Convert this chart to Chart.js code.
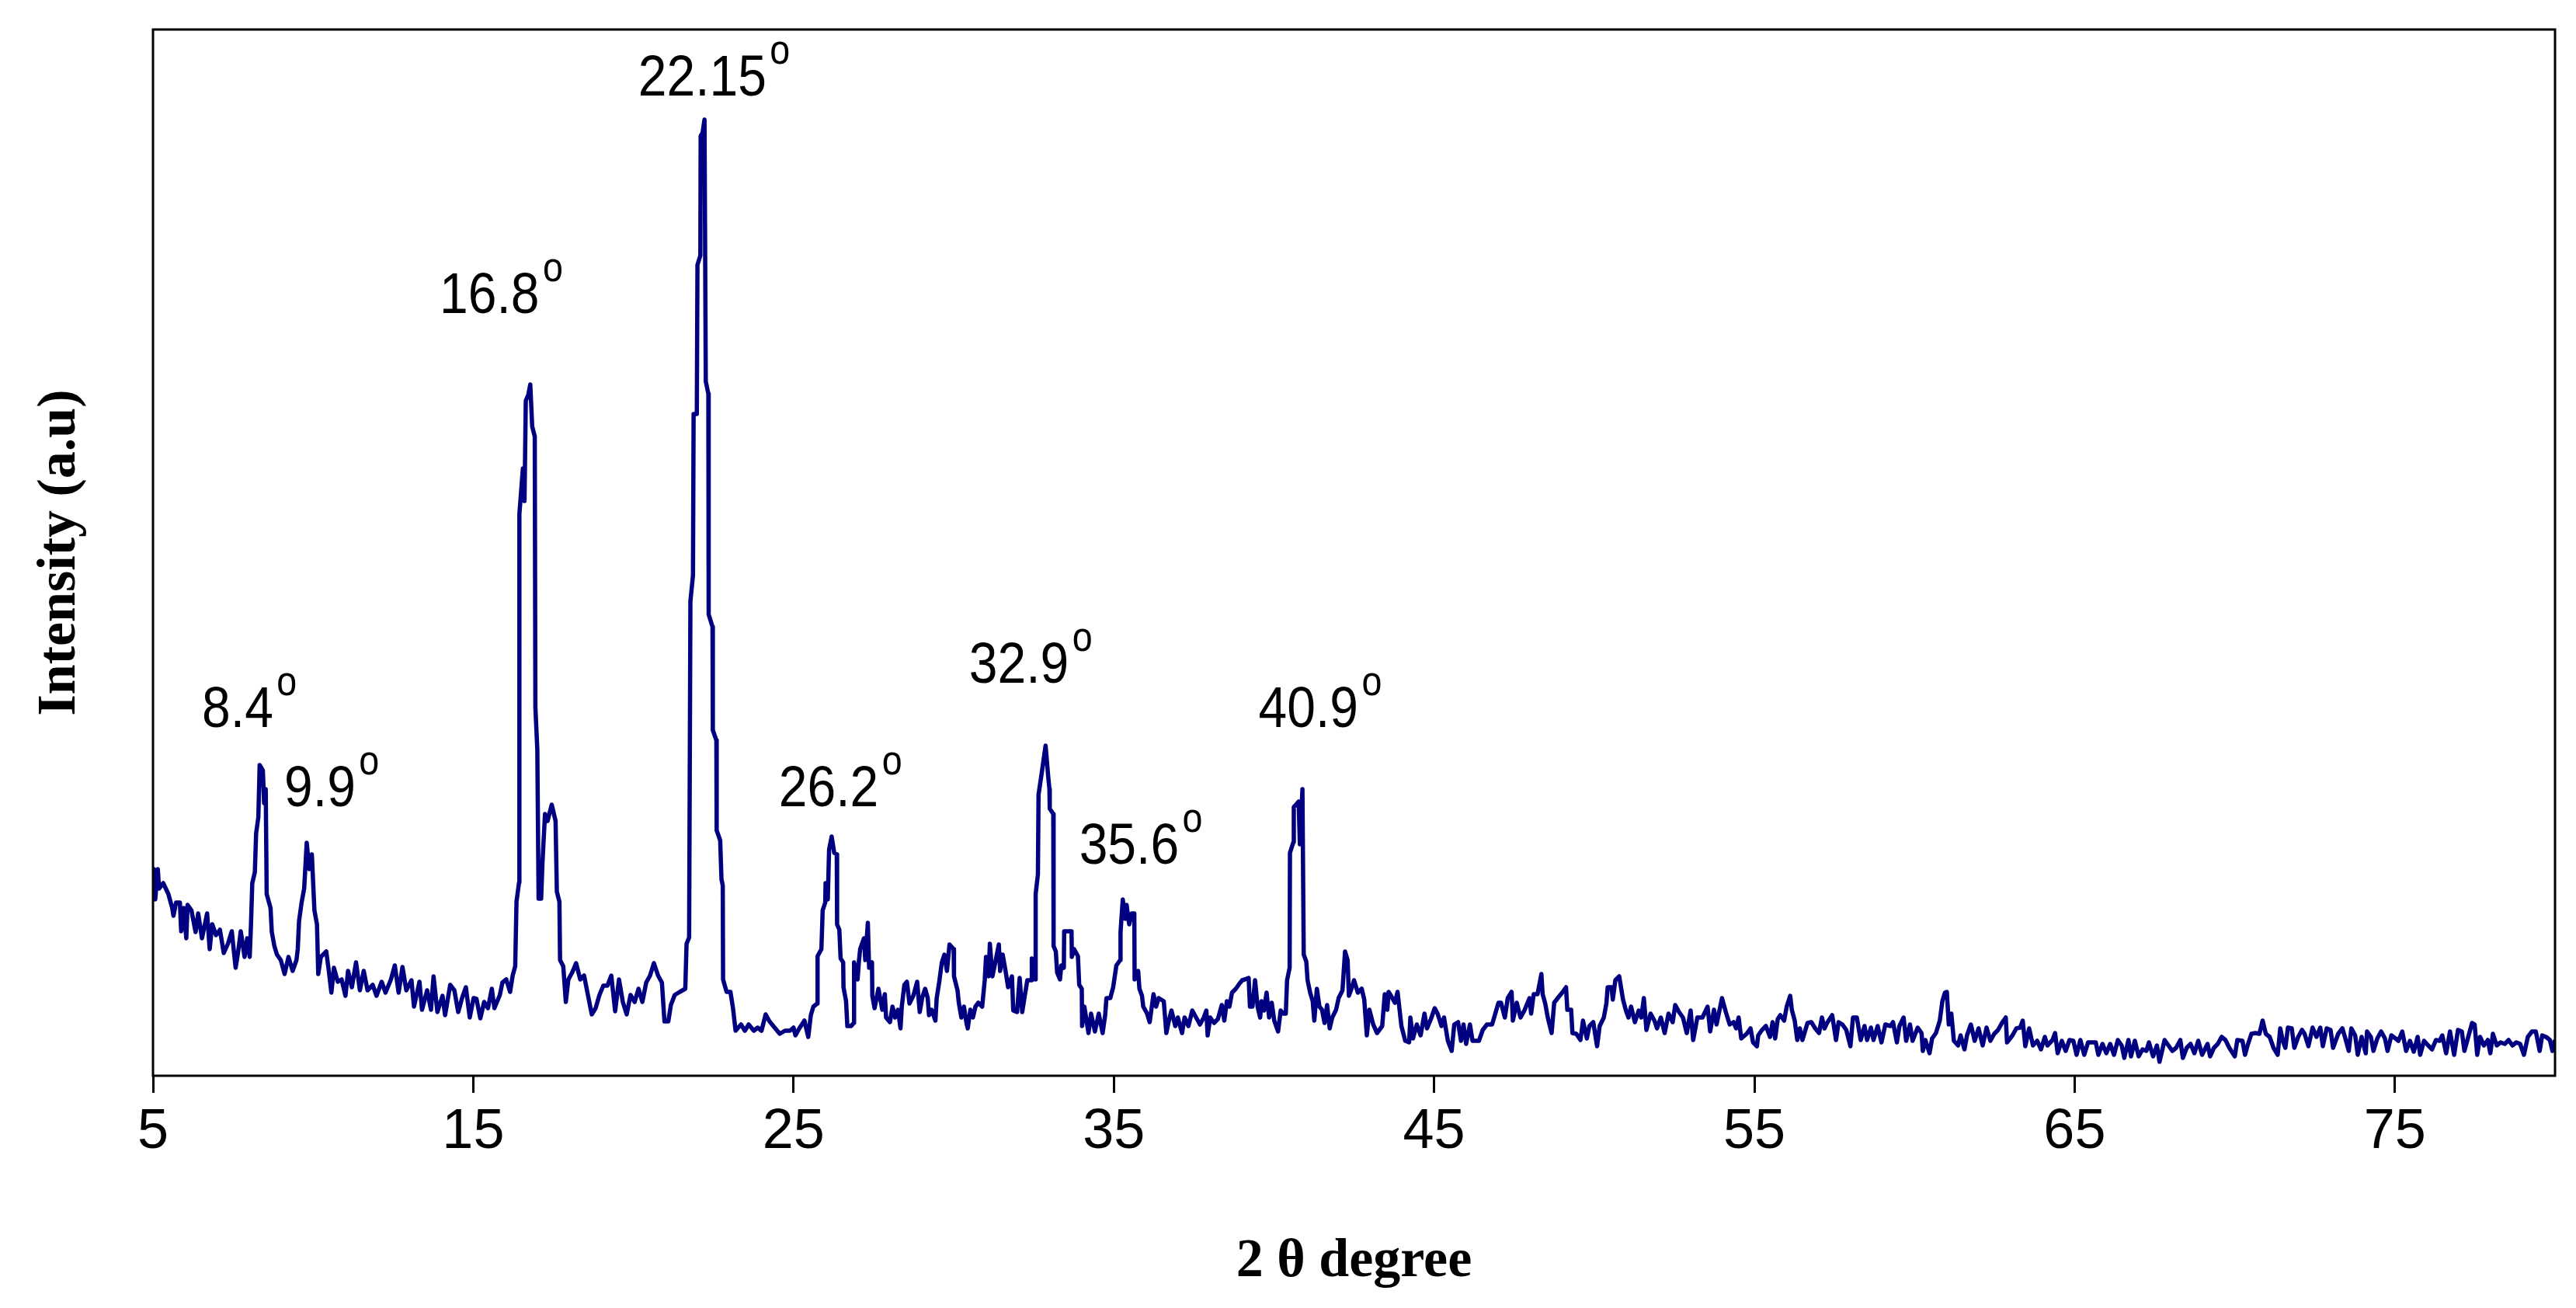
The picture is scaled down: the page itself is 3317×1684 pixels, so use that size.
<!DOCTYPE html>
<html>
<head>
<meta charset="utf-8">
<title>XRD pattern</title>
<script src="https://cdn.jsdelivr.net/npm/chart.js@4.4.1/dist/chart.umd.min.js"></script>
<style>
  html, body { margin: 0; padding: 0; background: #fff; overflow: hidden; }
  canvas { display: block; }
</style>
</head>
<body>
<canvas id="myChart" width="3317" height="1684"></canvas>
<script>
// 2 theta (degree) and intensity (a.u.)
const twoTheta = [
  5.00, 5.03, 5.07, 5.15, 5.19, 5.32, 5.48, 5.60, 5.64, 5.72, 5.84, 5.88, 5.96, 6.04, 6.08, 6.20, 6.33, 6.41, 6.53, 6.69, 6.77, 6.85, 6.97, 7.09, 7.21, 7.34, 7.46, 7.58, 7.66, 7.74, 7.86, 7.94, 8.02,
  8.06, 8.10, 8.18, 8.22, 8.29, 8.33, 8.43, 8.47, 8.52, 8.55, 8.67, 8.71, 8.79, 8.87, 8.99, 9.11, 9.23, 9.36, 9.48, 9.52, 9.56, 9.64, 9.72, 9.80, 9.88, 9.96, 10.04,
  10.12, 10.16, 10.24, 10.41, 10.49, 10.57, 10.65, 10.77, 10.89, 11.01, 11.09, 11.21, 11.34, 11.46, 11.58, 11.70, 11.86, 11.98, 12.14, 12.26, 12.43, 12.55, 12.67, 12.79, 12.91, 13.07, 13.15, 13.32, 13.40, 13.56, 13.68, 13.76, 13.88, 14.04, 14.12, 14.28, 14.41, 14.53, 14.65, 14.77, 14.89, 15.01,
  15.10, 15.22, 15.34, 15.46, 15.58, 15.66, 15.83, 15.91, 16.03, 16.15, 16.23, 16.31, 16.35, 16.43, 16.44, 16.55, 16.60, 16.64, 16.72, 16.78, 16.84, 16.92, 16.94, 17.00, 17.04, 17.12, 17.16, 17.24, 17.32, 17.45, 17.57, 17.61, 17.69,
  17.71, 17.81, 17.89, 17.97, 18.09, 18.21, 18.34, 18.46, 18.58, 18.70, 18.82, 18.94, 19.06, 19.19, 19.31, 19.43, 19.55, 19.67, 19.79, 19.91, 20.04, 20.16, 20.28, 20.40, 20.52, 20.64, 20.77, 20.89, 20.97, 21.09, 21.17, 21.29, 21.45, 21.62, 21.66, 21.74,
  21.78, 21.86, 21.88, 21.98, 22.00, 22.09, 22.10, 22.16, 22.22, 22.26, 22.34, 22.35, 22.47, 22.48, 22.59, 22.60, 22.71, 22.75, 22.79, 22.80, 22.91, 23.03, 23.11, 23.19, 23.36, 23.48, 23.60, 23.76, 23.88, 24.00, 24.13, 24.25, 24.41, 24.57, 24.73, 24.89, 25.00,
  25.06, 25.18, 25.34, 25.46, 25.54, 25.62, 25.74, 25.75, 25.87, 25.91, 25.99, 26.00, 26.07, 26.11, 26.19, 26.27, 26.35, 26.36, 26.43, 26.47, 26.55, 26.56, 26.64, 26.68, 26.80, 26.88, 26.89, 27.00, 27.04, 27.08, 27.20, 27.24, 27.32, 27.36, 27.45, 27.46, 27.53, 27.65, 27.77, 27.85, 27.89, 28.01, 28.09, 28.17, 28.26, 28.34, 28.38, 28.46, 28.54, 28.62, 28.74, 28.86, 28.94, 29.02, 29.11, 29.19, 29.23, 29.31, 29.43, 29.47, 29.55, 29.63, 29.71, 29.79, 29.87, 30.00,
  30.01, 30.12, 30.16, 30.24, 30.32, 30.40, 30.44, 30.52, 30.60, 30.68, 30.77, 30.89, 30.97, 31.01, 31.09, 31.13, 31.21, 31.29, 31.41, 31.45, 31.53, 31.62, 31.70, 31.82, 31.86, 31.98, 32.06, 32.14, 32.22, 32.30, 32.43, 32.44, 32.55, 32.56, 32.63, 32.65, 32.75, 32.87, 32.95, 32.99, 33.00, 33.11, 33.12, 33.19, 33.23, 33.32, 33.36, 33.44, 33.45, 33.56, 33.68, 33.69, 33.76, 33.88, 33.92, 34.00, 34.01, 34.08, 34.21, 34.29, 34.41, 34.53, 34.65, 34.73, 34.77, 34.89, 34.98,
  35.08, 35.20, 35.21, 35.28, 35.36, 35.40, 35.48, 35.56, 35.64, 35.65, 35.76, 35.80, 35.88, 35.92, 36.04, 36.12, 36.24, 36.32, 36.40, 36.56, 36.64, 36.72, 36.80, 36.92, 37.00, 37.13, 37.21, 37.33, 37.45, 37.57, 37.69, 37.81, 37.89, 37.93, 38.01, 38.13, 38.25, 38.37, 38.45, 38.53, 38.61, 38.69, 38.81, 38.93, 39.01, 39.09, 39.21, 39.25, 39.33, 39.41, 39.49, 39.57, 39.61, 39.69, 39.77, 39.85, 39.93, 40.01, 40.13, 40.21, 40.29, 40.37, 40.41, 40.49,
  40.50, 40.61, 40.62, 40.69, 40.77, 40.81, 40.89, 40.93, 41.01, 41.05, 41.13, 41.21, 41.26, 41.34, 41.42, 41.50, 41.58, 41.66, 41.74, 41.82, 41.94, 42.02, 42.14, 42.22, 42.30, 42.34, 42.42, 42.50, 42.62, 42.74, 42.82, 42.90, 42.98, 43.10, 43.22, 43.38, 43.46, 43.54, 43.58, 43.78, 43.86, 43.98, 44.10, 44.22, 44.26, 44.34, 44.46, 44.58, 44.70, 44.78, 44.90, 45.02,
  45.11, 45.23, 45.31, 45.43, 45.55, 45.63, 45.75, 45.84, 45.92, 46.00, 46.12, 46.20, 46.40, 46.52, 46.65, 46.81, 46.89, 47.01, 47.09, 47.21, 47.30, 47.42, 47.46, 47.58, 47.70, 47.82, 47.98, 48.03, 48.11, 48.23, 48.35, 48.39, 48.47, 48.55, 48.67, 48.75, 48.88, 49.00, 49.12, 49.16, 49.28, 49.32, 49.44, 49.57, 49.65, 49.77, 49.85, 49.97, 50.09, 50.17, 50.30, 50.38, 50.42, 50.54, 50.58, 50.66, 50.78, 50.90, 50.99, 51.07, 51.15, 51.27, 51.39, 51.47, 51.55, 51.63, 51.76, 51.88, 51.96, 52.08, 52.20, 52.32, 52.45, 52.53, 52.65, 52.77, 52.89, 53.01, 53.09, 53.22, 53.38, 53.54, 53.62, 53.74, 53.82, 53.99, 54.11, 54.23, 54.35, 54.43, 54.51, 54.59, 54.76, 54.88, 54.96,
  55.08, 55.12, 55.24, 55.36, 55.49, 55.57, 55.65, 55.73, 55.81, 55.93, 56.01, 56.12, 56.17, 56.26, 56.34, 56.42, 56.50, 56.58, 56.66, 56.78, 56.90, 57.02, 57.11, 57.19, 57.27, 57.43, 57.55, 57.63, 57.75, 57.87, 58.00, 58.08, 58.20, 58.32, 58.44, 58.52, 58.64, 58.72, 58.85, 58.97, 59.09, 59.25, 59.33, 59.45, 59.53, 59.66, 59.74, 59.86, 59.94, 60.10, 60.22, 60.26, 60.34, 60.47, 60.55, 60.67, 60.79, 60.87, 60.95, 61.01, 61.07, 61.15, 61.23, 61.36, 61.44, 61.56, 61.64, 61.76, 61.88, 62.00, 62.13, 62.25, 62.37, 62.49, 62.61, 62.73, 62.85, 62.89, 63.06, 63.18, 63.30, 63.38, 63.46, 63.58, 63.70, 63.83, 63.95, 64.07, 64.15, 64.31, 64.39, 64.47, 64.60, 64.72, 64.84, 64.96,
  65.06, 65.18, 65.30, 65.42, 65.54, 65.66, 65.74, 65.87, 65.99, 66.11, 66.23, 66.35, 66.47, 66.55, 66.68, 66.76, 66.88, 67.00, 67.12, 67.24, 67.32, 67.45, 67.57, 67.65, 67.73, 67.81, 67.93, 68.05, 68.17, 68.30, 68.38, 68.50, 68.62, 68.74, 68.86, 68.98, 69.15, 69.23, 69.35, 69.47, 69.59, 69.71, 69.83, 70.00, 70.08, 70.24, 70.32, 70.40, 70.52, 70.64, 70.77, 70.87, 70.97, 71.09, 71.21, 71.34, 71.42, 71.50, 71.58, 71.66, 71.78, 71.86, 71.98, 72.10, 72.18, 72.30, 72.43, 72.55, 72.67, 72.75, 72.87, 72.99, 73.07, 73.23, 73.36, 73.44, 73.56, 73.64, 73.76, 73.84, 73.96, 74.09, 74.13, 74.25, 74.33, 74.45, 74.57, 74.69, 74.77, 74.89, 75.02,
  75.11, 75.23, 75.35, 75.47, 75.59, 75.71, 75.79, 75.91, 76.04, 76.16, 76.28, 76.40, 76.48, 76.60, 76.72, 76.85, 76.97, 77.09, 77.17, 77.29, 77.41, 77.49, 77.57, 77.66, 77.78, 77.90, 77.98, 78.06, 78.18, 78.30, 78.43, 78.55, 78.67, 78.79, 78.91, 79.03, 79.15, 79.28, 79.40, 79.52, 79.60, 79.72, 79.84, 79.92, 80.00
];

const intensity = [
  250, 266, 227, 266, 241, 248, 234, 216, 206, 223, 223, 186, 216, 177, 220, 213, 185, 209, 177, 209, 163, 195, 181, 188, 158, 170, 186, 139, 160, 186, 153, 177, 153,
  195, 248, 262, 312, 333, 400, 393, 351, 369, 234, 216, 185, 167, 156, 149, 131, 153, 135, 149, 163, 199, 223, 241, 300, 266, 285, 213,
  195, 131, 153, 160, 135, 107, 139, 121, 124, 103, 135, 114, 146, 110, 135, 110, 117, 103, 121, 107, 124, 142, 107, 140, 110, 123, 89, 121, 85, 110, 85, 128, 82, 103, 78, 117, 110, 82, 100, 114, 75, 100,
  99, 74, 95, 87, 112, 87, 104, 120, 124, 108, 129, 141, 224, 249, 723, 782, 740, 869, 877, 890, 836, 823, 474, 420, 228, 228, 274, 337, 328, 349, 328, 237, 224,
  149, 141, 95, 124, 133, 145, 124, 129, 104, 79, 87, 104, 116, 116, 129, 83, 124, 95, 79, 104, 95, 112, 95, 120, 129, 145, 129, 120, 70, 70, 91, 104, 108, 112, 170, 178,
  611, 644, 852, 852, 1044, 1056, 1210, 1214, 1231, 894, 878, 594, 578, 445, 432, 316, 303, 253, 245, 124, 108, 108, 87, 58, 66, 58, 66, 58, 62, 58, 79, 70, 62, 54, 58, 58, 62,
  52, 61, 71, 50, 78, 89, 93, 154, 163, 213, 223, 248, 227, 291, 308, 287, 285, 195, 188, 151, 146, 114, 96, 64, 64, 68, 146, 124, 147, 163, 177, 149, 197, 139, 146, 103, 87, 112, 85, 105, 75, 69, 89, 75, 85, 61, 89, 117, 121, 93, 103, 121, 82, 101, 112, 100, 78, 85, 71, 100, 121, 146, 156, 135, 169, 163,
  128, 110, 94, 75, 89, 68, 61, 85, 75, 89, 94, 89, 123, 153, 128, 170, 128, 144, 169, 135, 156, 135, 114, 128, 84, 82, 126, 82, 103, 123, 123, 151, 124, 234, 259, 362, 390, 425, 386, 369, 344, 337, 167, 160, 133, 124, 142, 139, 186, 186, 186, 153, 163, 154, 117, 112, 64, 89, 55, 80, 57, 80, 55, 78, 100, 100, 114,
  142, 149, 185, 227, 202, 220, 195, 209, 209, 124, 135, 112, 103, 89, 80, 69, 105, 89, 100, 96, 55, 71, 84, 64, 75, 55, 75, 64, 84, 75, 66, 75, 84, 52, 75, 68, 73, 91, 71, 96, 89, 107, 112, 119, 123, 124, 126, 89, 89, 123, 89, 75, 96, 84, 107, 75, 94, 71, 57, 84, 80, 80, 123, 139,
  287, 301, 346, 349, 353, 298, 369, 156, 147, 123, 107, 96, 71, 112, 89, 85, 68, 91, 61, 75, 85, 100, 110, 160, 149, 103, 112, 123, 107, 112, 98, 52, 85, 66, 55, 64, 105, 85, 108, 94, 108, 64, 45, 43, 75, 48, 66, 52, 80, 61, 73, 87,
  80, 64, 75, 45, 32, 66, 69, 45, 66, 41, 66, 45, 45, 59, 66, 66, 77, 94, 94, 75, 100, 108, 71, 94, 75, 84, 100, 80, 105, 105, 131, 105, 93, 75, 55, 94, 101, 107, 114, 85, 85, 55, 54, 46, 71, 48, 64, 69, 38, 64, 75, 93, 114, 114, 98, 123, 128, 98, 84, 75, 89, 69, 84, 75, 100, 59, 80, 71, 61, 75, 55, 80, 69, 91, 82, 75, 55, 84, 46, 75, 75, 89, 57, 85, 66, 100, 82, 66, 69, 61, 75, 48, 54, 61, 43,
  38, 52, 59, 64, 50, 69, 48, 73, 78, 71, 89, 103, 85, 71, 46, 61, 46, 57, 68, 69, 61, 55, 75, 61, 68, 78, 46, 69, 66, 59, 38, 75, 75, 46, 64, 46, 62, 46, 64, 43, 66, 64, 69, 43, 64, 75, 45, 66, 45, 62, 55, 32, 46, 29, 48, 55, 71, 96, 107, 108, 66, 80, 45, 39, 52, 34, 52, 66, 45, 61, 39, 62, 45, 54, 59, 68, 75, 43, 52, 61, 62, 71, 38, 61, 39, 45, 34, 50, 39, 46, 55, 29, 45, 32, 46, 45,
  27, 46, 27, 43, 43, 43, 27, 41, 29, 41, 27, 46, 39, 23, 46, 25, 45, 25, 34, 32, 43, 25, 39, 18, 32, 46, 39, 32, 36, 46, 23, 36, 41, 29, 45, 27, 41, 25, 36, 41, 50, 46, 36, 25, 46, 45, 27, 39, 54, 55, 54, 71, 54, 50, 36, 27, 61, 45, 36, 62, 61, 36, 50, 59, 54, 38, 62, 50, 62, 38, 61, 59, 36, 54, 61, 50, 32, 61, 52, 27, 50, 29, 57, 50, 32, 48, 57, 48, 32, 52, 48,
  45, 57, 32, 45, 31, 50, 27, 45, 39, 34, 46, 45, 52, 29, 57, 27, 59, 57, 32, 50, 68, 66, 27, 50, 39, 46, 29, 54, 39, 43, 41, 46, 39, 43, 41, 27, 50, 57, 57, 32, 52, 50, 46, 32, 46
];

const xTicks = [5, 15, 25, 35, 45, 55, 65, 75];

// peak labels: text, left edge (2 theta) and baseline (intensity)
const peakLabels = ['8.4', '9.9', '16.8', '22.15', '26.2', '32.9', '35.6', '40.9'];
const peakLabelX = [6.53, 9.10, 13.95, 20.15, 24.54, 30.48, 33.92, 39.52];
const peakLabelY = [449, 347, 982, 1262, 347, 506, 273, 449];

const points = twoTheta.map((t, i) => ({ x: t, y: intensity[i] }));

const sansFont = '"Liberation Sans", Arial, sans-serif';

// box around the plot and the peak labels with a raised "o"
const extras = {
  id: 'extras',
  afterDraw(chart) {
    const { ctx, chartArea: a, scales } = chart;
    ctx.save();
    ctx.strokeStyle = '#000';
    ctx.lineWidth = 3;
    ctx.strokeRect(a.left, a.top, a.right - a.left, a.bottom - a.top);

    ctx.fillStyle = '#000';
    ctx.textBaseline = 'alphabetic';
    ctx.textAlign = 'left';
    peakLabels.forEach((txt, i) => {
      const px = scales.x.getPixelForValue(peakLabelX[i]);
      const py = scales.y.getPixelForValue(peakLabelY[i]);
      ctx.save();
      ctx.translate(px, py);
      ctx.scale(0.88, 1);
      ctx.font = '75px ' + sansFont;
      ctx.fillText(txt, 0, 0);
      const w = ctx.measureText(txt).width;
      ctx.font = '53px ' + sansFont;
      ctx.fillText('o', w + 5, -41);
      ctx.restore();
    });
    ctx.restore();
  }
};

Chart.defaults.color = '#000';

const ctx = document.getElementById('myChart').getContext('2d');
const myChart = new Chart(ctx, {
  type: 'line',
  data: {
    datasets: [{
      data: points,
      borderColor: '#000080',
      borderWidth: 5.5,
      borderJoinStyle: 'round',
      pointRadius: 0,
      tension: 0,
      fill: false
    }]
  },
  options: {
    responsive: false,
    devicePixelRatio: 1,
    animation: false,
    layout: { padding: { top: 38, right: 27, left: 0, bottom: 0 } },
    plugins: {
      legend: { display: false },
      tooltip: { enabled: false }
    },
    scales: {
      x: {
        type: 'linear',
        min: 5,
        max: 80,
        afterBuildTicks: (scale) => {
          scale.ticks = xTicks.map(v => ({ value: v }));
        },
        afterFit: (scale) => { scale.height = 299; },
        ticks: {
          font: { family: sansFont, size: 72 },
          padding: 8,
          maxRotation: 0,
          autoSkip: false
        },
        grid: {
          display: true,
          drawOnChartArea: false,
          drawTicks: true,
          tickLength: 22,
          color: '#000',
          lineWidth: 3
        },
        border: { display: false },
        title: {
          display: true,
          text: '2 θ degree',
          font: { family: '"Liberation Serif", "Times New Roman", serif', size: 70, weight: 'bold' },
          padding: { top: 0, bottom: 17 }
        }
      },
      y: {
        min: 0,
        max: 1347,
        afterFit: (scale) => { scale.width = 197; },
        ticks: { display: false },
        grid: { display: false },
        border: { display: false },
        title: {
          display: true,
          text: 'Intensity (a.u)',
          font: { family: '"Liberation Serif", "Times New Roman", serif', size: 70, weight: 'bold' },
          padding: { top: 36, bottom: 0 }
        }
      }
    }
  },
  plugins: [extras]
});
</script>
</body>
</html>
